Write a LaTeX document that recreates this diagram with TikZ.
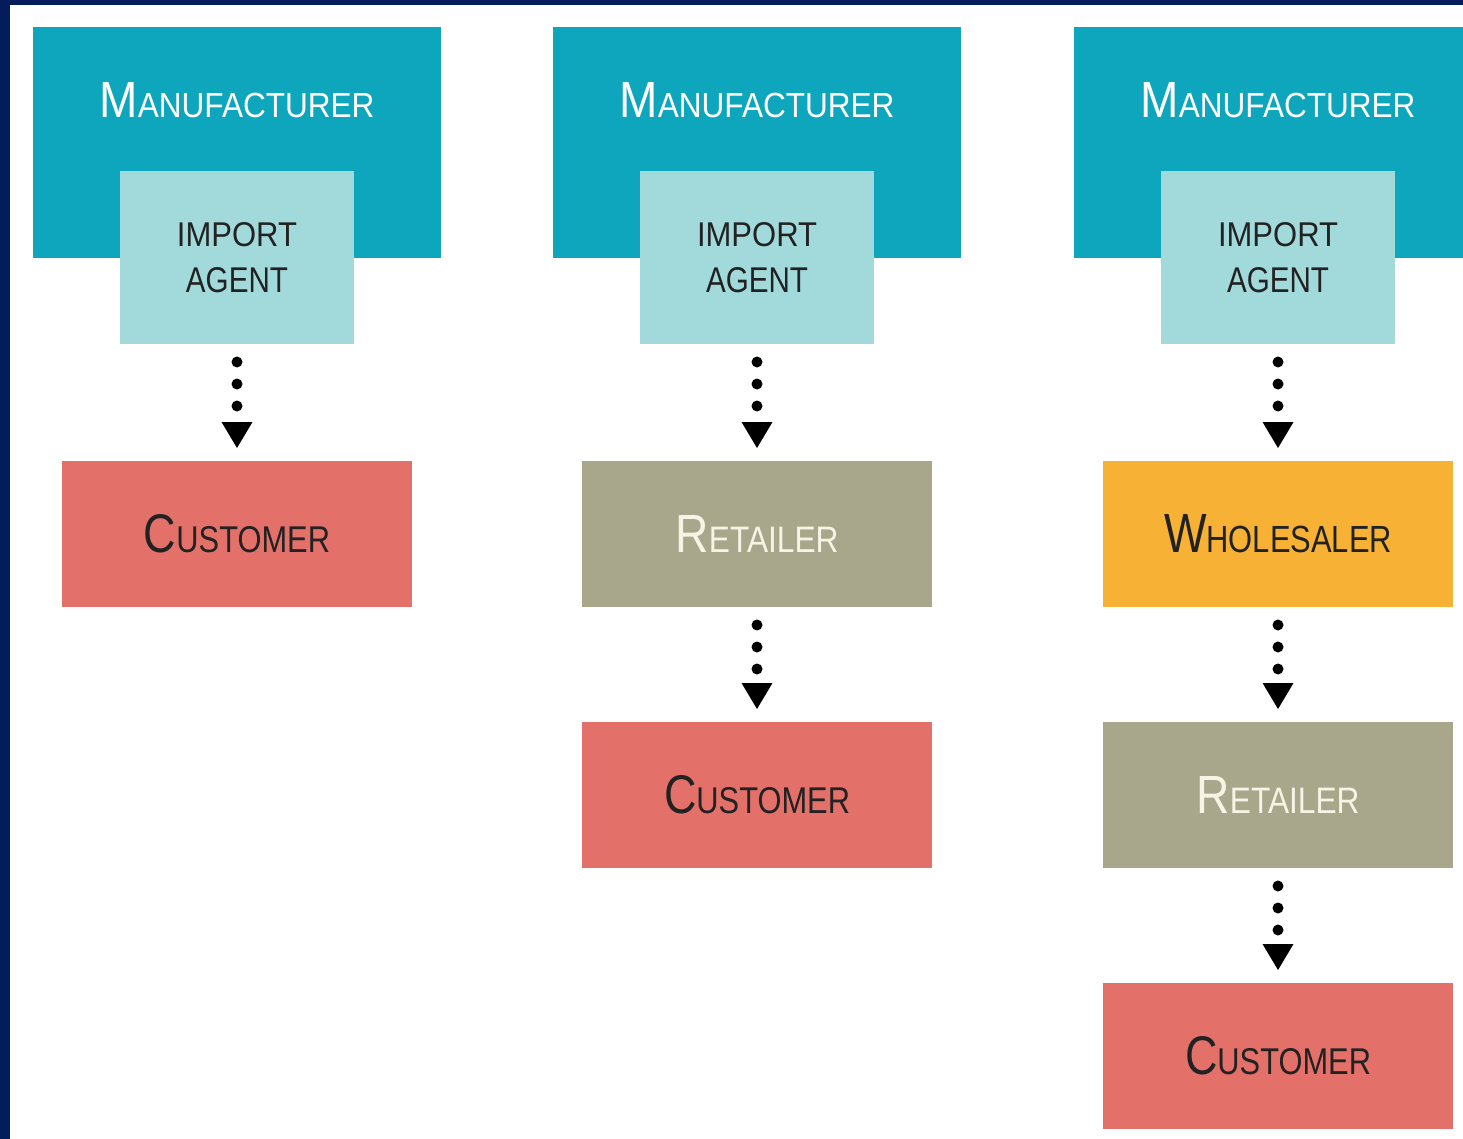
\documentclass[tikz,border=0pt]{standalone}
\usepackage{fontspec}
\setmainfont{Liberation Sans}
\usepackage{graphicx}
\usetikzlibrary{arrows.meta}
\definecolor{navy}{HTML}{041C5C}
\definecolor{mfg}{HTML}{0EA6BC}
\definecolor{agentc}{HTML}{A2DADC}
\definecolor{custc}{HTML}{E3716A}
\definecolor{retailc}{HTML}{A9A78B}
\definecolor{wholec}{HTML}{F7B236}
\definecolor{ink}{HTML}{222222}
\definecolor{cream}{HTML}{F6F4E4}
\newcommand{\capsl}[4]{\resizebox{#1}{#2}{\fontsize{20}{20}\selectfont #3\fontsize{13.7}{14}\selectfont #4}}
\tikzset{
  boxbase/.style={rectangle, inner sep=0pt, outer sep=0pt, draw=none},
  mfgbox/.style={boxbase, fill=mfg, minimum width=408pt, minimum height=231pt},
  agentbox/.style={boxbase, fill=agentc, minimum width=234pt, minimum height=173pt, text=ink, align=center, font=\fontsize{20}{46}\selectfont},
  rowbox/.style={boxbase, minimum width=350pt, minimum height=146pt},
  custbox/.style={rowbox, fill=custc, text=ink},
  retailbox/.style={rowbox, fill=retailc, text=cream},
  wholebox/.style={rowbox, fill=wholec, text=ink},
  mfgtext/.style={inner sep=0pt, text=white},
  flow/.style={draw=black, line width=11pt, line cap=round, dash pattern=on 0pt off 22pt,
    shorten <=18pt, shorten >=13pt, -{Triangle[length=26pt,width=31pt,line width=0pt]}}
}
\begin{document}
\begin{tikzpicture}[x=1pt,y=-1pt]
\clip (0,0) rectangle (1463,1139);
\fill[white] (0,0) rectangle (1463,1139);
\fill[navy] (0,0) rectangle (10,1139);
\fill[navy] (0,0) rectangle (1463,5);

% column 1
\node[mfgbox] (m1) at (237,142.5) {};
\node[mfgtext] (mt1) at (237,100.5) {\capsl{275pt}{35pt}{M}{ANUFACTURER}};
\node[agentbox] (a1) at (237,257.5) {\resizebox{120pt}{24pt}{IMPORT}\\\resizebox{102pt}{25pt}{AGENT}};
\node[custbox] (c1) at (237,534) {\capsl{186pt}{38pt}{C}{USTOMER}};
\draw[flow] (a1) -- (c1);

% column 2
\node[mfgbox] (m2) at (757,142.5) {};
\node[mfgtext] (mt2) at (757,100.5) {\capsl{275pt}{35pt}{M}{ANUFACTURER}};
\node[agentbox] (a2) at (757,257.5) {\resizebox{120pt}{24pt}{IMPORT}\\\resizebox{102pt}{25pt}{AGENT}};
\node[retailbox] (r2) at (757,534) {\capsl{163pt}{37pt}{R}{ETAILER}};
\node[custbox] (c2) at (757,795) {\capsl{186pt}{38pt}{C}{USTOMER}};
\draw[flow] (a2) -- (r2);
\draw[flow] (r2) -- (c2);

% column 3
\node[mfgbox] (m3) at (1278,142.5) {};
\node[mfgtext] (mt3) at (1278,100.5) {\capsl{275pt}{35pt}{M}{ANUFACTURER}};
\node[agentbox] (a3) at (1278,257.5) {\resizebox{120pt}{24pt}{IMPORT}\\\resizebox{102pt}{25pt}{AGENT}};
\node[wholebox] (w3) at (1278,534) {\capsl{228pt}{38pt}{W}{HOLESALER}};
\node[retailbox] (r3) at (1278,795) {\capsl{163pt}{37pt}{R}{ETAILER}};
\node[custbox] (c3) at (1278,1056) {\capsl{186pt}{38pt}{C}{USTOMER}};
\draw[flow] (a3) -- (w3);
\draw[flow] (w3) -- (r3);
\draw[flow] (r3) -- (c3);
\end{tikzpicture}
\end{document}
